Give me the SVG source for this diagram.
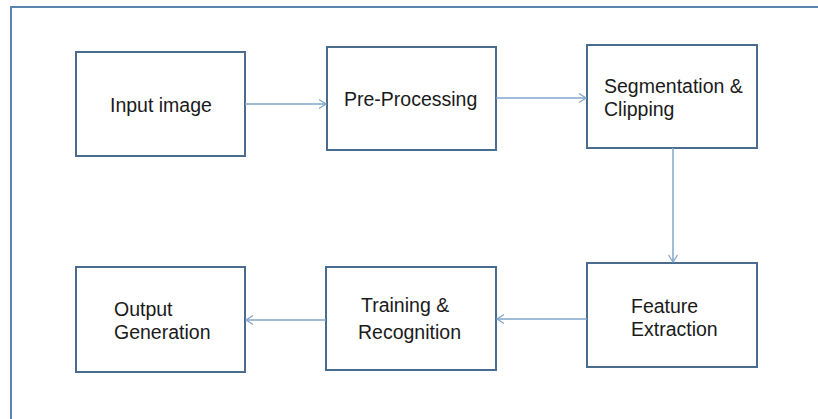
<svg xmlns="http://www.w3.org/2000/svg" width="818" height="419" viewBox="0 0 818 419">
<style>
.box{fill:#fff;stroke:#4a6d8f;stroke-width:2}
.lbl{font-family:"Liberation Sans",Arial,sans-serif;font-size:19.5px;fill:#1a1a1a}
.con{stroke:#7fa6cc;stroke-width:1.5;fill:none}
</style>
<defs>
<marker id="ah" markerWidth="12" markerHeight="12" refX="9" refY="6" orient="auto" markerUnits="userSpaceOnUse">
<path d="M2,1.5 L9,6 L2,10.5" fill="none" stroke="#7fa6cc" stroke-width="1.3"/>
</marker>
</defs>
<rect width="818" height="419" fill="#fff"/>
<path d="M11,419 L11,7 L818,7" fill="none" stroke="#5a84ae" stroke-width="2"/>
<g id="n1"><rect class="box" x="76" y="52" width="169" height="104"/><text class="lbl" x="110" y="112">Input image</text></g>
<g id="n2"><rect class="box" x="327" y="47" width="169" height="103"/><text class="lbl" x="344" y="106">Pre-Processing</text></g>
<g id="n3"><rect class="box" x="587" y="45" width="170" height="103"/><text class="lbl" x="604" y="93">Segmentation &amp;</text><text class="lbl" x="604" y="116">Clipping</text></g>
<g id="n4"><rect class="box" x="587" y="263" width="170" height="104"/><text class="lbl" x="631" y="313">Feature</text><text class="lbl" x="631" y="336">Extraction</text></g>
<g id="n5"><rect class="box" x="326" y="267" width="170" height="103"/><text class="lbl" x="361" y="312">Training &amp;</text><text class="lbl" x="358" y="339">Recognition</text></g>
<g id="n6"><rect class="box" x="76" y="267" width="169" height="105"/><text class="lbl" x="114" y="316">Output</text><text class="lbl" x="114" y="339">Generation</text></g>
<g id="connectors">
<line class="con" x1="245" y1="104" x2="326" y2="104" marker-end="url(#ah)"/>
<line class="con" x1="496" y1="98" x2="586" y2="98" marker-end="url(#ah)"/>
<line class="con" x1="673" y1="148" x2="673" y2="262" marker-end="url(#ah)"/>
<line class="con" x1="587" y1="319" x2="497" y2="319" marker-end="url(#ah)"/>
<line class="con" x1="326" y1="320" x2="246" y2="320" marker-end="url(#ah)"/>
</g>
</svg>
